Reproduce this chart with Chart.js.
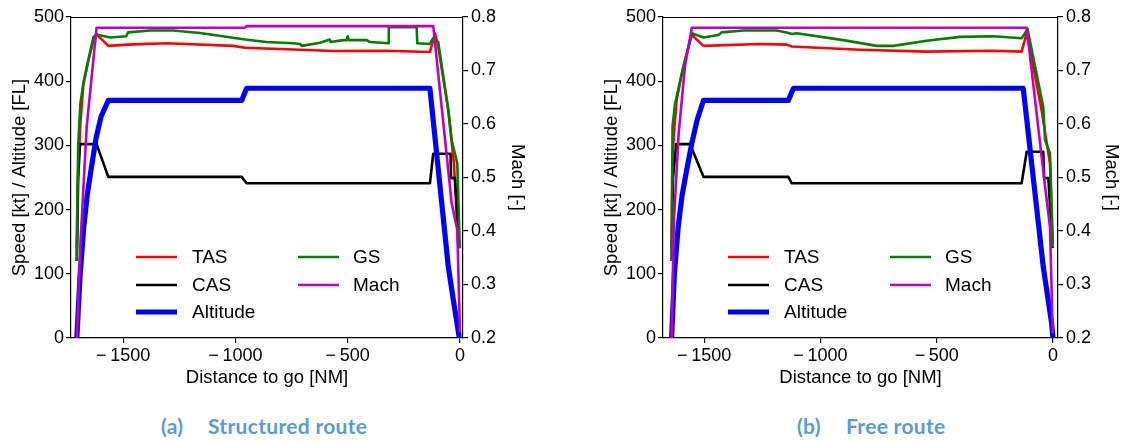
<!DOCTYPE html>
<html><head><meta charset="utf-8">
<script src="https://cdn.jsdelivr.net/npm/chart.js@4.4.1/dist/chart.umd.min.js"></script>
<style>
html,body{margin:0;padding:0;background:#fff;width:1124px;height:441px;overflow:hidden;position:relative;}
#wa{position:absolute;left:0;top:0;width:540px;height:390px;}
#wb{position:absolute;left:590px;top:0;width:534px;height:390px;}
.cap{position:absolute;top:413px;font-family:Lato,'Open Sans',sans-serif;font-weight:bold;font-size:21px;color:#5B9BD5;white-space:pre;letter-spacing:0.3px;}
</style></head><body>
<div id="wa"><canvas id="ca" width="540" height="390" style="width:540px;height:390px"></canvas></div>
<div id="wb"><canvas id="cb" width="534" height="390" style="width:534px;height:390px"></canvas></div>
<div class="cap" style="left:161px">(a)</div>
<div class="cap" style="left:208px">Structured route</div>
<div class="cap" style="left:797px">(b)</div>
<div class="cap" style="left:846px">Free route</div>
<script>
// ---------- tick labels ----------
const xTicks = [-1500, -1000, -500, 0];
const yTicks = [0, 100, 200, 300, 400, 500];
const machTicks = [0.2, 0.3, 0.4, 0.5, 0.6, 0.7, 0.8];
const seriesLabels = ['TAS', 'CAS', 'Altitude', 'GS', 'Mach'];

// ---------- (a) Structured route ----------
const tasA_dist = [-1706, -1703, -1699, -1690, -1677, -1655, -1632, -1618, -1566, -1480, -1306, -1009, -957, -712, -565, -341, -134, -111, -97, -52, -27, -8, 0];
const tasA_kt   = [140, 230, 270, 335, 395, 432, 463, 473, 455, 457, 459, 455, 452, 449, 447, 447.5, 445.5, 474, 454, 355, 272, 145, 140];

const casA_dist = [-1706, -1700, -1692, -1618, -1566, -972, -950, -134, -119, -42, -40, -22, -3];
const casA_kt   = [120, 250, 302, 302, 251, 251, 241, 241, 287, 287, 249, 249, 140];

const altA_dist = [-1706, -1692, -1676, -1660, -1640, -1620, -1598, -1566, -972, -950, -134, -52, -30, -3];
const altA_fl   = [0, 95, 170, 222, 268, 312, 345, 370, 370, 389, 389, 111, 60, 0];

const gsA_dist = [-1707, -1700, -1690, -1677, -1655, -1632, -1618, -1610, -1558, -1486, -1478, -1380, -1277, -1158, -957, -861, -742, -712, -705, -623, -580, -577, -520, -505, -500, -495, -415, -401, -319, -317, -193, -190, -134, -119, -97, -52, -37, -12, -1];
const gsA_kt   = [120, 300, 365, 397, 433, 469, 473, 472, 468, 470, 476, 479, 479, 475, 465, 461, 459, 458, 455, 460, 465, 461, 464, 464, 470, 464, 464, 461, 459, 484, 484, 459, 458, 467, 461, 355, 308, 272, 140];

const machA_dist = [-1706, -1690, -1662, -1640, -1618, -957, -950, -119, -37, -12, 0];
const machA_val  = [0.2, 0.377, 0.595, 0.688, 0.78, 0.78, 0.783, 0.783, 0.452, 0.402, 0.21];

// ---------- (b) Free route ----------
const tasB_dist = [-1640, -1637, -1630, -1618, -1600, -1589, -1570, -1553, -1503, -1260, -1145, -1123, -830, -543, -257, -135, -113, -49, -13, -1];
const tasB_kt   = [140, 265, 320, 371, 405, 423, 450, 472, 455, 458, 457, 454, 449, 446, 447.5, 446, 475, 355, 272, 142];

const casB_dist = [-1640, -1634, -1620, -1561, -1503, -1138, -1123, -135, -113, -42, -38, -20, -2];
const casB_kt   = [120, 250, 302, 302, 251, 251, 241, 241, 290, 290, 249, 249, 140];

const altB_dist = [-1640, -1628, -1612, -1595, -1575, -1555, -1530, -1503, -1138, -1116, -128, -42, -6, 0];
const altB_fl   = [0, 100, 172, 222, 262, 300, 340, 370, 370, 389, 389, 111, 23, 0];

const gsB_dist = [-1640, -1636, -1625, -1596, -1570, -1553, -1503, -1439, -1425, -1331, -1188, -1145, -1123, -1102, -902, -758, -687, -543, -400, -257, -135, -120, -110, -42, -34, -13, -1];
const gsB_kt   = [120, 330, 365, 412, 450, 474.6, 468, 472, 476, 479, 479, 476, 473.5, 474.6, 464, 455, 455, 463, 469, 470, 467, 474.6, 482, 360, 308, 288, 142];

const machB_dist = [-1640, -1630, -1610, -1582, -1553, -113, -34, -13, -1];
const machB_val  = [0.2, 0.42, 0.58, 0.71, 0.78, 0.78, 0.483, 0.408, 0.209];

// ---------- helpers / styles ----------
const FONT = "'Liberation Sans', Arial, sans-serif";
const pts = (xs, ys) => xs.map((x, i) => ({x: x, y: ys[i]}));
const fmtX = v => v < 0 ? '\u2212\u2009' + Math.abs(v) : String(v);

const styles = [
  {color: '#ff0000', width: 2.6, axis: 'y',  order: 4},
  {color: '#000000', width: 2.6, axis: 'y',  order: 3},
  {color: '#0000ff', width: 5.2, axis: 'y',  order: 2},
  {color: '#008000', width: 2.6, axis: 'y',  order: 1},
  {color: '#bf00bf', width: 2.6, axis: 'y1', order: 0}
];
const legendSlots = [[0,0],[0,1],[0,2],[1,0],[1,1]];

const framePlugin = {
  id: 'frame',
  afterDraw(chart) {
    const {ctx, chartArea: a} = chart;
    ctx.save();
    ctx.strokeStyle = '#000';
    ctx.lineWidth = 1.2;
    ctx.beginPath();
    ctx.moveTo(a.left, a.top + 0.5);
    ctx.lineTo(a.right, a.top + 0.5);
    ctx.stroke();
    ctx.restore();
  }
};

const legendPlugin = {
  id: 'innerLegend',
  afterDatasetsDraw(chart) {
    const {ctx, chartArea: a} = chart;
    const colHandle = [65, 227], colText = [121, 282], handleLen = 41;
    const rowY = [240, 268, 295];
    ctx.save();
    chart.data.datasets.forEach((ds, i) => {
      const [c, r] = legendSlots[i];
      const y = a.top + rowY[r];
      const x0 = a.left + colHandle[c];
      ctx.strokeStyle = ds.borderColor;
      ctx.lineWidth = ds.borderWidth;
      ctx.lineCap = 'butt';
      ctx.beginPath();
      ctx.moveTo(x0, y);
      ctx.lineTo(x0 + handleLen, y);
      ctx.stroke();
      ctx.fillStyle = '#000';
      ctx.font = '19px ' + FONT;
      ctx.textBaseline = 'middle';
      ctx.textAlign = 'left';
      ctx.fillText(ds.label, a.left + colText[c], y + 1);
    });
    ctx.restore();
  }
};

function makeChart(canvasId, series, xmin, xmax, leftW, rightW, leftTitlePad, rightTitlePad) {
  const datasets = series.map((data, i) => ({
    label: seriesLabels[i],
    data: data,
    borderColor: styles[i].color,
    backgroundColor: styles[i].color,
    borderWidth: styles[i].width,
    yAxisID: styles[i].axis,
    order: styles[i].order,
    pointRadius: 0,
    tension: 0,
    fill: false,
    borderJoinStyle: 'round'
  }));
  const axisCommon = {
    grid: {display: true, drawOnChartArea: false, drawTicks: true, tickLength: 5, color: '#000', lineWidth: 1.2},
    border: {display: true, color: '#000', width: 1.2}
  };
  return new Chart(document.getElementById(canvasId), {
    type: 'line',
    data: {datasets: datasets},
    options: {
      responsive: false,
      animation: false,
      devicePixelRatio: 1,
      layout: {padding: {top: 17, left: 0, right: 0, bottom: 0}},
      plugins: {legend: {display: false}, tooltip: {enabled: false}},
      scales: {
        x: Object.assign({}, axisCommon, {
          type: 'linear', position: 'bottom', min: xmin, max: xmax,
          afterBuildTicks: s => { s.ticks = xTicks.map(v => ({value: v})); },
          afterFit: s => { s.height = 52; },
          ticks: {color: '#000', font: {family: FONT, size: 18}, padding: 2, maxRotation: 0, autoSkip: false, callback: v => fmtX(v)},
          title: {display: true, text: 'Distance to go [NM]', color: '#000', font: {family: FONT, size: 18.5}, padding: {top: 0, bottom: 1}}
        }),
        y: Object.assign({}, axisCommon, {
          type: 'linear', position: 'left', min: 0, max: 500,
          afterBuildTicks: s => { s.ticks = yTicks.map(v => ({value: v})); },
          afterFit: s => { s.width = leftW; },
          ticks: {color: '#000', font: {family: FONT, size: 18}, padding: 2, callback: v => String(v)},
          title: {display: true, text: 'Speed [kt] / Altitude [FL]', color: '#000', font: {family: FONT, size: 18.5}, padding: {top: leftTitlePad, bottom: 0}}
        }),
        y1: Object.assign({}, axisCommon, {
          type: 'linear', position: 'right', min: 0.2, max: 0.8,
          afterBuildTicks: s => { s.ticks = machTicks.map(v => ({value: v})); },
          afterFit: s => { s.width = rightW; },
          ticks: {color: '#000', font: {family: FONT, size: 18}, padding: 3, callback: v => Number(v).toFixed(1)},
          title: {display: true, text: 'Mach [-]', color: '#000', font: {family: FONT, size: 18.5}, padding: {top: rightTitlePad, bottom: 0}}
        })
      }
    },
    plugins: [framePlugin, legendPlugin]
  });
}

makeChart('ca', [
  pts(tasA_dist, tasA_kt),
  pts(casA_dist, casA_kt),
  pts(altA_dist, altA_fl),
  pts(gsA_dist, gsA_kt),
  pts(machA_dist, machA_val)
], -1732, 13.4, 71, 77, 9, 12);

makeChart('cb', [
  pts(tasB_dist, tasB_kt),
  pts(casB_dist, casB_kt),
  pts(altB_dist, altB_fl),
  pts(gsB_dist, gsB_kt),
  pts(machB_dist, machB_val)
], -1677, 21.5, 73, 66, 11, 2);
</script>
</body></html>
